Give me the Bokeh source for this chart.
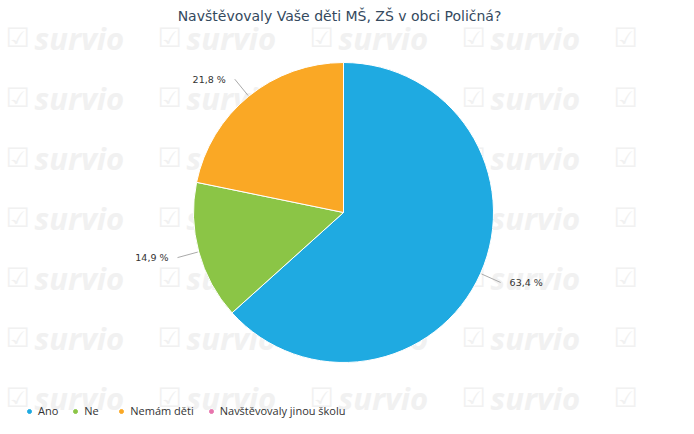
import numpy as np
from bokeh.plotting import figure
from bokeh.models import Range1d, Legend, LegendItem, ColumnDataSource
from bokeh.core.properties import value
from bokeh.embed import file_html
from bokeh.resources import INLINE

# ---- data ----
title = "Navštěvovaly Vaše děti MŠ, ZŠ v obci Poličná?"
categories = ["Ano", "Ne", "Nemám děti", "Navštěvovaly jinou školu"]
percents = [63.4, 14.9, 21.8, 0.0]
pct_labels = ["63,4 %", "14,9 %", "21,8 %", "0 %"]
colors = ["#1faae1", "#8bc546", "#faa825", "#e774ad"]

# ---- layout constants ----
W, H = 678, 418
CX, CY = 343, H - 212
R = 150
LABEL_DIST = 22

p = figure(width=W, height=H, x_range=Range1d(0, W), y_range=Range1d(0, H),
           x_axis_type=None, y_axis_type=None, output_backend="svg",
           toolbar_location=None, min_border=0, outline_line_color=None,
           background_fill_color="white", border_fill_color="white")
p.grid.visible = False

# ---- watermark (decorative background) ----
cx_, ry_ = np.meshgrid(np.arange(5) * 152 + 5, H - (np.arange(7) * 60 + 37))
cx_ = cx_.ravel(); ry_ = ry_.ravel()
p.text(x=cx_, y=ry_, text=["☑"] * len(cx_), text_font=value("DejaVu Sans"),
       text_font_size="27px", text_color="#f1f1f1", text_baseline="middle",
       text_align="left")
sx_, sy_ = np.meshgrid(np.arange(4) * 152 + 34, H - (np.arange(7) * 60 + 37))
sx_ = sx_.ravel(); sy_ = sy_.ravel()
p.text(x=sx_, y=sy_, text=["survio"] * len(sx_), text_font=value("Open Sans"),
       text_font_size="31px", text_font_style="bold italic", text_color="#f1f1f1",
       text_baseline="middle", text_align="left")

# ---- pie ----
vals = np.array(percents)
total = vals.sum()
cum = np.concatenate([[0], np.cumsum(vals)]) / total
starts = np.pi / 2 - 2 * np.pi * cum[:-1]
ends = np.pi / 2 - 2 * np.pi * cum[1:]
nz = vals > 0
src = ColumnDataSource(dict(start=starts[nz], end=ends[nz],
                            color=[c for c, k in zip(colors, nz) if k]))
p.wedge(x=CX, y=CY, radius=R, radius_units="screen", start_angle="start",
        end_angle="end", direction="clock", fill_color="color",
        line_color="white", line_width=1, source=src)

# ---- data labels with connectors ----
mids = (starts + ends) / 2
for m, lab, k in zip(mids, pct_labels, nz):
    if not k:
        continue
    c, s = np.cos(m), np.sin(m)
    x0, y0 = CX + (R + 1) * c, CY + (R + 1) * s
    x1, y1 = CX + (R + LABEL_DIST) * c, CY + (R + LABEL_DIST) * s
    p.line(x=[x0, x1], y=[y0, y1], line_color="#aaaaaa", line_width=1)
    right = c > 0
    p.text(x=[x1 + (9 if right else -9)], y=[y1], text=[lab],
           text_font=value("DejaVu Sans"), text_font_size="9.5px",
           text_color="#333333", text_baseline="middle",
           text_align="left" if right else "right")

# ---- title ----
p.text(x=[W / 2], y=[H - 15], text=[title], text_font=value("DejaVu Sans"),
       text_font_size="14px", text_color="#34495e", text_align="center",
       text_baseline="middle")

# ---- legend ----
items = []
for cat, col in zip(categories, colors):
    r = p.scatter(x=[np.nan], y=[np.nan], marker="circle", size=9,
                  fill_color=col, line_color=col)
    items.append(LegendItem(label=cat, renderers=[r]))
legend = Legend(items=items, orientation="horizontal", location=(24, 0),
                border_line_color=None, background_fill_alpha=0,
                padding=0, margin=0, spacing=12, glyph_width=10,
                glyph_height=10, label_standoff=4, label_height=12,
                label_text_font="Open Sans", label_text_font_size="11px",
                label_text_color="#333333")
p.add_layout(legend, "center")

open("out.html", "w").write(file_html(p, INLINE))
